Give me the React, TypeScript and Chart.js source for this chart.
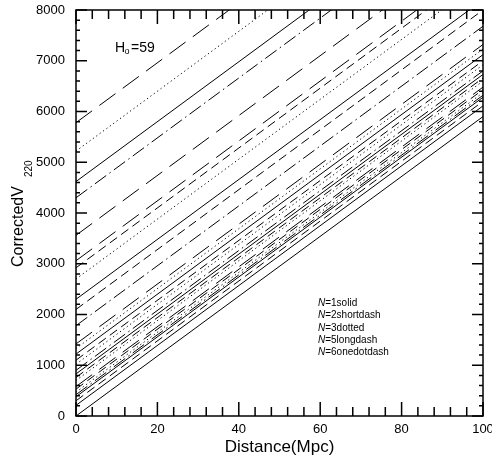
import React, { useEffect, useRef } from "react";
import { Chart, registerables } from "chart.js";

Chart.register(...registerables);

// Hubble constant used for every line: V = H0 * D + offset
const H0 = 59;
const distanceEnds = [0, 100];
const xTickLabels = [0, 20, 40, 60, 80, 100];
const yTickLabels = [0, 1000, 2000, 3000, 4000, 5000, 6000, 7000, 8000];

// Velocity offsets (km/s at D = 0) grouped by line style
const solidOffsets = [4620, 2300, 1220, 830, 380, 210, 0];
const shortDashOffsets = [2920, 2100, 1100, 760, 530, 300];
const dottedOffsets = [5220, 2700, 1330, 1020, 700, 470];
const longDashOffsets = [5780, 3560, 3060, 1420, 580];
const dotDashOffsets = [4300, 1780, 900, 420];

const legendN = ["1", "2", "3", "5", "6"];
const legendStyle = ["solid", "shortdash", "dotted", "longdash", "onedotdash"];

const FONT = "'Liberation Sans', Arial, Helvetica, sans-serif";

function lineFor(offset: number) {
  return distanceEnds.map((d) => ({ x: d, y: H0 * d + offset }));
}

function makeSets(offsets: number[], dash: number[]) {
  return offsets.map((o) => ({
    data: lineFor(o),
    showLine: true,
    borderColor: "#000",
    borderWidth: 1,
    borderDash: dash,
    pointRadius: 0,
    fill: false,
  }));
}

const framePlugin = {
  id: "frame",
  afterDraw(chart: any) {
    const { ctx, chartArea } = chart;
    const xs = chart.scales.x;
    const ys = chart.scales.y;
    const { left, right, top, bottom } = chartArea;
    ctx.save();
    ctx.strokeStyle = "#000";
    ctx.fillStyle = "#000";
    ctx.lineWidth = 1.5;
    ctx.setLineDash([]);
    ctx.strokeRect(left, top, right - left, bottom - top);
    // x ticks
    for (let v = 0; v <= 100; v += 4) {
      const px = xs.getPixelForValue(v);
      const len = v % 20 === 0 ? 14 : 9;
      ctx.beginPath();
      ctx.moveTo(px, bottom);
      ctx.lineTo(px, bottom - len);
      ctx.moveTo(px, top);
      ctx.lineTo(px, top + len);
      ctx.stroke();
    }
    // y ticks
    for (let v = 0; v <= 8000; v += 200) {
      const py = ys.getPixelForValue(v);
      const len = v % 1000 === 0 ? 11 : 4;
      ctx.beginPath();
      ctx.moveTo(left, py);
      ctx.lineTo(left + len, py);
      ctx.moveTo(right, py);
      ctx.lineTo(right - len, py);
      ctx.stroke();
    }
    // tick labels
    ctx.font = `13px ${FONT}`;
    ctx.textAlign = "right";
    ctx.textBaseline = "middle";
    yTickLabels.forEach((v) => {
      ctx.fillText(String(v), left - 11, ys.getPixelForValue(v));
    });
    ctx.textAlign = "center";
    ctx.textBaseline = "middle";
    xTickLabels.forEach((v) => {
      ctx.fillText(String(v), xs.getPixelForValue(v), bottom + 13);
    });
    // axis titles
    ctx.font = `17px ${FONT}`;
    ctx.fillText("Distance(Mpc)", (left + right) / 2, bottom + 31);
    ctx.save();
    ctx.translate(23, 267);
    ctx.rotate(-Math.PI / 2);
    ctx.textAlign = "left";
    ctx.textBaseline = "alphabetic";
    ctx.font = `16px ${FONT}`;
    ctx.fillText("CorrectedV", 0, 0);
    ctx.font = `10px ${FONT}`;
    ctx.fillText("220", 90, 9);
    ctx.restore();
    // H0 label
    ctx.textAlign = "left";
    ctx.textBaseline = "alphabetic";
    ctx.font = `14px ${FONT}`;
    ctx.fillText("H", 115, 52);
    ctx.font = `9px ${FONT}`;
    ctx.fillText("o", 124.5, 54);
    ctx.font = `14px ${FONT}`;
    ctx.fillText("=" + H0, 131, 52);
    // legend text
    legendN.forEach((n, i) => {
      const y = 306 + i * 12.3;
      ctx.font = `italic 10px ${FONT}`;
      ctx.fillText("N", 318, y);
      const w = ctx.measureText("N").width;
      ctx.font = `10px ${FONT}`;
      ctx.fillText("=" + n + legendStyle[i], 318 + w, y);
    });
    ctx.restore();
  },
};

export default function App() {
  const ref = useRef<HTMLCanvasElement | null>(null);
  useEffect(() => {
    if (!ref.current) return;
    const datasets = [
      ...makeSets(solidOffsets, []),
      ...makeSets(shortDashOffsets, [9, 5]),
      ...makeSets(dottedOffsets, [1.2, 3]),
      ...makeSets(longDashOffsets, [20, 9]),
      ...makeSets(dotDashOffsets, [14, 4, 1.5, 4]),
    ];
    const chart = new Chart(ref.current, {
      type: "scatter",
      data: { datasets },
      options: {
        animation: false,
        responsive: false,
        events: [],
        layout: { padding: { left: 76, top: 10, right: 9, bottom: 56 } },
        plugins: { legend: { display: false }, tooltip: { enabled: false } },
        scales: {
          x: { type: "linear", min: 0, max: 100, display: false },
          y: { type: "linear", min: 0, max: 8000, display: false },
        },
      },
      plugins: [framePlugin],
    });
    return () => chart.destroy();
  }, []);
  return (
    <div style={{ position: "fixed", left: 0, top: 0, width: 492, height: 472, background: "#fff" }}>
      <canvas ref={ref} width={492} height={472} style={{ width: 492, height: 472 }} />
    </div>
  );
}
